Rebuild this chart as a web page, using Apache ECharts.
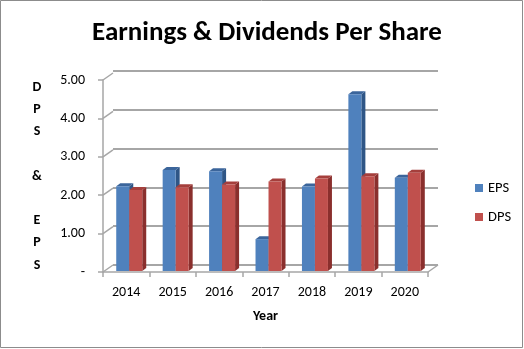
<!DOCTYPE html>
<html>
<head>
<meta charset="utf-8">
<script src="https://cdn.jsdelivr.net/npm/echarts@6/dist/echarts.min.js"></script>
<style>
  html, body { margin: 0; padding: 0; background: #fff; }
  #chart { width: 524px; height: 349px; }
</style>
</head>
<body>
<div id="chart"></div>
<script>
// Per-share figures by fiscal year
const years = ['2014', '2015', '2016', '2017', '2018', '2019', '2020'];
const eps = [2.21, 2.63, 2.60, 0.83, 2.20, 4.60, 2.43];
const dps = [2.11, 2.18, 2.25, 2.33, 2.41, 2.47, 2.56];
const yTicks = [0, 1, 2, 3, 4, 5];

const FONT = 'Carlito, Lato, sans-serif';
const GRID_GRAY = '#a6a6a6';
// depth of the box (back wall offset) and of each column
const WALL_DX = 10, WALL_DY = -7;
const BAR_DX = 4, BAR_DY = -3;

const palettes = [
  { front: '#4f81bd', side: '#2f5686', top: '#3b659b' },
  { front: '#c0504d', side: '#8a2f2d', top: '#a53f3c' }
];

function columnRenderer(sIdx) {
  return function (params, api) {
    const cat = api.value(0);
    const val = api.value(1);
    const base = api.coord([cat, 0]);
    const top = api.coord([cat, val]);
    const band = api.size([1, 0])[0];
    const w = band * 0.28;
    const c = base[0];
    const x = sIdx === 0 ? c - band * 0.215 : c - band * 0.215 + w;
    const yb = base[1] - 1;
    const yt = top[1] - 1;
    const p = palettes[sIdx];
    return {
      type: 'group',
      children: [
        { type: 'polygon', shape: { points: [[x + w, yt], [x + w + BAR_DX, yt + BAR_DY], [x + w + BAR_DX, yb + BAR_DY], [x + w, yb]] }, style: { fill: p.side } },
        { type: 'polygon', shape: { points: [[x, yt], [x + BAR_DX, yt + BAR_DY], [x + w + BAR_DX, yt + BAR_DY], [x + w, yt]] }, style: { fill: p.top } },
        { type: 'rect', shape: { x: x, y: yt, width: w, height: yb - yt }, style: { fill: p.front } }
      ]
    };
  };
}

// short receding lines joining the front axis ticks to the back wall, plus the floor's right edge
function wallEdges(params, api) {
  const cs = params.coordSys;
  const v = api.value(0);
  const y = api.coord([0, v])[1];
  const children = [
    { type: 'line', shape: { x1: cs.x, y1: y, x2: cs.x + WALL_DX, y2: y + WALL_DY }, style: { stroke: GRID_GRAY, lineWidth: 1.5 } }
  ];
  if (v === 0) {
    children.push({ type: 'line', shape: { x1: cs.x + cs.width, y1: y, x2: cs.x + cs.width + WALL_DX, y2: y + WALL_DY }, style: { stroke: GRID_GRAY, lineWidth: 1.5 } });
  }
  return { type: 'group', children: children };
}

const chart = echarts.init(document.getElementById('chart'), null, { renderer: 'canvas' });

chart.setOption({
  animation: false,
  backgroundColor: '#ffffff',
  textStyle: { fontFamily: FONT },
  graphic: [
    { type: 'rect', shape: { x: 0.5, y: 0.5, width: 522, height: 347 }, style: { fill: 'none', stroke: '#8c8c8c', lineWidth: 1 }, z: 100 }
  ],
  title: {
    text: 'Earnings & Dividends Per Share',
    left: 262, top: 15, textAlign: 'center',
    textStyle: { fontFamily: FONT, fontWeight: 'bold', fontSize: 27, color: '#000' }
  },
  legend: {
    data: ['EPS', 'DPS'],
    orient: 'vertical',
    left: 470, top: 175,
    icon: 'rect', itemWidth: 8, itemHeight: 8, itemGap: 13, itemTextGap: 5,
    textStyle: { fontFamily: FONT, fontSize: 14.5, color: '#000', lineHeight: 16 }
  },
  grid: [
    // front plane: axes, labels, columns
    { left: 103, right: 96, top: 80, bottom: 77 },
    // back wall: gridlines
    { left: 113, right: 86, top: 71, bottom: 84 }
  ],
  xAxis: [
    {
      gridIndex: 0, type: 'category', data: years,
      axisLine: { lineStyle: { color: GRID_GRAY, width: 1.5 } },
      axisTick: { show: true, length: 5, lineStyle: { color: GRID_GRAY, width: 1.5 } },
      axisLabel: { fontFamily: FONT, fontSize: 14, color: '#000', margin: 13 },
      name: 'Year', nameLocation: 'middle', nameGap: 37,
      nameTextStyle: { fontFamily: FONT, fontWeight: 'bold', fontSize: 14, color: '#000' }
    },
    { gridIndex: 1, type: 'category', data: years, show: false }
  ],
  yAxis: [
    {
      gridIndex: 0, type: 'value', min: 0, max: 5, interval: 1,
      axisLine: { show: true, lineStyle: { color: GRID_GRAY, width: 1.5 } },
      axisTick: { show: true, length: 5, lineStyle: { color: GRID_GRAY, width: 1.5 } },
      splitLine: { show: false },
      axisLabel: {
        fontFamily: FONT, fontSize: 14, color: '#000', margin: 18,
        formatter: v => (v === 0 ? '-' : v.toFixed(2))
      },
      name: 'D\nP\nS\n \n&\n \nE\nP\nS', nameLocation: 'middle', nameGap: 66, nameRotate: 0,
      nameTextStyle: { fontFamily: FONT, fontWeight: 'bold', fontSize: 14, color: '#000', lineHeight: 22.25, align: 'center', verticalAlign: 'middle' }
    },
    {
      gridIndex: 1, type: 'value', min: 0, max: 5, interval: 1,
      axisLine: { show: false }, axisTick: { show: false }, axisLabel: { show: false },
      splitLine: { show: true, lineStyle: { color: GRID_GRAY, width: 2 } }
    }
  ],
  series: [
    {
      name: 'walls', type: 'custom', xAxisIndex: 0, yAxisIndex: 0,
      data: yTicks.map(v => [v]), encode: { y: 0 },
      renderItem: wallEdges, silent: true, z: 1
    },
    {
      name: 'EPS', type: 'custom', xAxisIndex: 0, yAxisIndex: 0,
      itemStyle: { color: palettes[0].front },
      data: years.map((y, i) => [i, eps[i]]), encode: { x: 0, y: 1 },
      renderItem: columnRenderer(0), z: 2
    },
    {
      name: 'DPS', type: 'custom', xAxisIndex: 0, yAxisIndex: 0,
      itemStyle: { color: palettes[1].front },
      data: years.map((y, i) => [i, dps[i]]), encode: { x: 0, y: 1 },
      renderItem: columnRenderer(1), z: 3
    }
  ]
});
</script>
</body>
</html>
